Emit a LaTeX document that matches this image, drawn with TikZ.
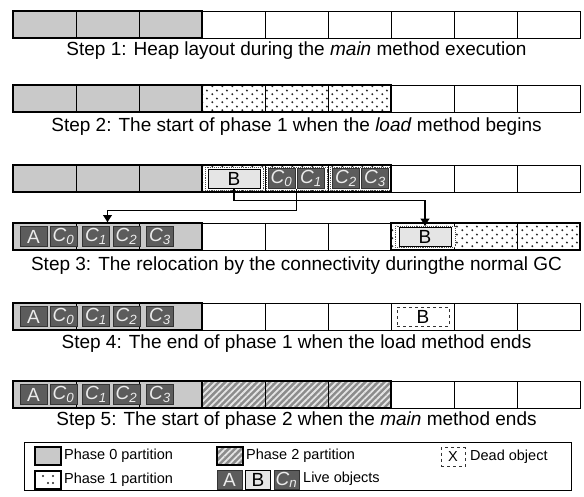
\documentclass[tikz,border=0pt]{standalone}
\usepackage{fontspec}
\setmainfont{Liberation Sans}
\usetikzlibrary{patterns.meta,arrows.meta,calc}
\definecolor{pzero}{gray}{0.79}
\definecolor{objdark}{gray}{0.36}
\definecolor{objlight}{gray}{0.9}
\definecolor{hatchbg}{gray}{0.55}
\tikzdeclarepattern{name=phdots, type=uncolored,
  bounding box={(0pt,0pt) and (10pt,8pt)}, tile size={(10pt,8pt)},
  code={\fill (2.5pt,2pt) circle (1.2pt); \fill (7.5pt,6pt) circle (1.2pt);}}
\newcommand\capfont{\fontsize{19}{21}\selectfont}
\newcommand\objfont{\fontsize{19}{21}\selectfont}
\newcommand\legfont{\fontsize{14.5}{16}\selectfont}
\newcommand\Cobj[1]{\textit{C}\textsubscript{\itshape #1}}
\tikzset{
  cellbase/.style={draw=black, line width=0.8pt, minimum width=63pt, minimum height=27pt, inner sep=0pt, outer sep=0pt, anchor=north west},
  zerocell/.style={cellbase, fill=pzero},
  onecell/.style={cellbase, preaction={fill=white}, pattern=phdots, pattern color=black!85},
  twocell/.style={cellbase, preaction={fill=hatchbg}, pattern={Lines[angle=45,distance=4.5pt,line width=1.8pt]}, pattern color=white!90!black},
  freecell/.style={cellbase, fill=white},
  grp/.style={draw=black, line width=2.3pt},
  darkobj/.style={draw=black!80, fill=objdark, text=white!92!black, minimum width=27pt, minimum height=20pt, inner sep=0pt, font=\objfont},
  lightobj/.style={draw=black, line width=0.7pt, fill=objlight, minimum width=52pt, minimum height=19pt, inner sep=0pt, font=\objfont},
  deadobj/.style={draw=black!80, dashed, line width=0.7pt, fill=white, minimum width=52pt, minimum height=19pt, inner sep=0pt, font=\objfont},
  halo/.style={fill=white, draw=black!70, densely dotted, line width=0.9pt},
  caption/.style={font=\capfont, inner sep=0pt},
  legtext/.style={font=\legfont, inner sep=0pt, anchor=west},
  conn/.style={draw=black, line width=1.5pt, -{Latex[length=8pt,width=10pt]}},
}
\begin{document}
\begin{tikzpicture}[x=1pt,y=-1pt]
\useasboundingbox (0,0) rectangle (584,496);
% ---------- Row 1
\foreach \i/\s in {1/zerocell,2/zerocell,3/zerocell,4/freecell,5/freecell,6/freecell,7/freecell,8/freecell,9/freecell}
  \node[\s] (ra\i) at ({13+63*(\i-1)},11) {};
\draw[grp] (ra1.north west) rectangle (ra3.south east);
\node[caption] (cap1) at (296.5,51) {Step 1: Heap layout during the \textit{main} method execution};
% ---------- Row 2
\foreach \i/\s in {1/zerocell,2/zerocell,3/zerocell,4/onecell,5/onecell,6/onecell,7/freecell,8/freecell,9/freecell}
  \node[\s] (rb\i) at ({13+63*(\i-1)},85) {};
\draw[grp] (rb1.north west) rectangle (rb3.south east);
\draw[grp] (rb4.north west) rectangle (rb6.south east);
\node[caption] (cap2) at (296.5,127) {Step 2: The start of phase 1 when the \textit{load} method begins};
% ---------- Row 3 (upper)
\foreach \i/\s in {1/zerocell,2/zerocell,3/zerocell,4/onecell,5/onecell,6/onecell,7/freecell,8/freecell,9/freecell}
  \node[\s] (rc\i) at ({13+63*(\i-1)},165) {};
\draw[halo] (205,167) rectangle (263,190);
\draw[halo] (266,167) rectangle (327,190);
\draw[halo] (330,167) rectangle (390,190);
\node[lightobj] (Bup) at (234,178.5) {B};
\node[darkobj] (C0up) at (281.5,178.5) {\Cobj{0}};
\node[darkobj] (C1up) at (311,178.5) {\Cobj{1}};
\node[darkobj] (C2up) at (346,178.5) {\Cobj{2}};
\node[darkobj] (C3up) at (375,178.5) {\Cobj{3}};
\draw[grp] (rc1.north west) rectangle (rc3.south east);
\draw[grp] (rc4.north west) rectangle (rc6.south east);
% ---------- Row 3 (lower)
\foreach \i/\s in {1/zerocell,2/zerocell,3/zerocell,4/freecell,5/freecell,6/freecell,7/onecell,8/onecell,9/onecell}
  \node[\s] (rd\i) at ({13+63*(\i-1)},223) {};
\draw[halo] (395,226) rectangle (455,247);
\node[lightobj] (Blow) at (425,236.5) {B};
\draw[grp] (rd1.north west) rectangle (rd3.south east);
\draw[grp] (rd7.north west) rectangle (rd9.south east);
\node[caption] (cap3) at (296.5,266) {Step 3: The relocation by the connectivity duringthe normal GC};
% ---------- Row 4
\foreach \i/\s in {1/zerocell,2/zerocell,3/zerocell,4/freecell,5/freecell,6/freecell,7/freecell,8/freecell,9/freecell}
  \node[\s] (re\i) at ({13+63*(\i-1)},303) {};
\node[deadobj] (Bdead) at (423,316.5) {B};
\draw[grp] (re1.north west) rectangle (re3.south east);
\node[caption] (cap4) at (296.5,344) {Step 4: The end of phase 1 when the load method ends};
% ---------- Row 5
\foreach \i/\s in {1/zerocell,2/zerocell,3/zerocell,4/twocell,5/twocell,6/twocell,7/freecell,8/freecell,9/freecell}
  \node[\s] (rf\i) at ({13+63*(\i-1)},381) {};
\draw[grp] (rf1.north west) rectangle (rf3.south east);
\draw[grp] (rf4.north west) rectangle (rf6.south east);
\node[caption] (cap5) at (296.5,421) {Step 5: The start of phase 2 when the \textit{main} method ends};
% ---------- live objects in rows 3 lower, 4, 5
\foreach \r/\yy in {d/236.5,e/316.5,f/394.5}{
  \node[darkobj] (A\r) at (33.5,\yy) {A};
  \node[darkobj] (C0\r) at (63.5,\yy) {\Cobj{0}};
  \node[darkobj] (C1\r) at (96,\yy) {\Cobj{1}};
  \node[darkobj] (C2\r) at (126.5,\yy) {\Cobj{2}};
  \node[darkobj] (C3\r) at (160,\yy) {\Cobj{3}};
}
% ---------- connectors
\draw[conn] (Bup.south) -- ++(0,12) -| (Blow.north);
\draw[conn] (rc5.center |- C0up.south) -- ++(0,22) -| (rd2.north);
% ---------- legend
\node[draw=black, line width=0.8pt, minimum width=547pt, minimum height=48pt, inner sep=0pt, anchor=north west] (legend) at (24,442) {};
\node[zerocell, minimum width=26pt, minimum height=18pt, line width=2.3pt] (lz) at (35,447) {};
\node[legtext] (lzt) at (64,456) {Phase 0 partition};
\node[cellbase, minimum width=26pt, minimum height=18pt, line width=2.3pt, fill=white] (lo) at (35,471) {};
\fill[black!85] (43,476) circle (1.1pt) (53,476) circle (1.1pt) (48,483) circle (1.1pt) (53,483) circle (1.1pt);
\node[legtext] (lot) at (64,480) {Phase 1 partition};
\node[twocell, minimum width=26pt, minimum height=18pt, line width=2.3pt] (lt) at (217,447) {};
\node[legtext] (ltt) at (246,456) {Phase 2 partition};
\node[darkobj, minimum width=25pt, minimum height=19pt] (lA) at (229.5,480) {A};
\node[lightobj, minimum width=25pt, minimum height=19pt] (lB) at (258,480) {B};
\node[darkobj, minimum width=25pt, minimum height=19pt] (lC) at (286.5,480) {\Cobj{n}};
\node[legtext] (llt) at (303,479) {Live objects};
\node[deadobj, minimum width=24pt, minimum height=19pt, font=\legfont] (lX) at (453,457) {X};
\node[legtext] (lxt) at (470,457) {Dead object};
\end{tikzpicture}
\end{document}
